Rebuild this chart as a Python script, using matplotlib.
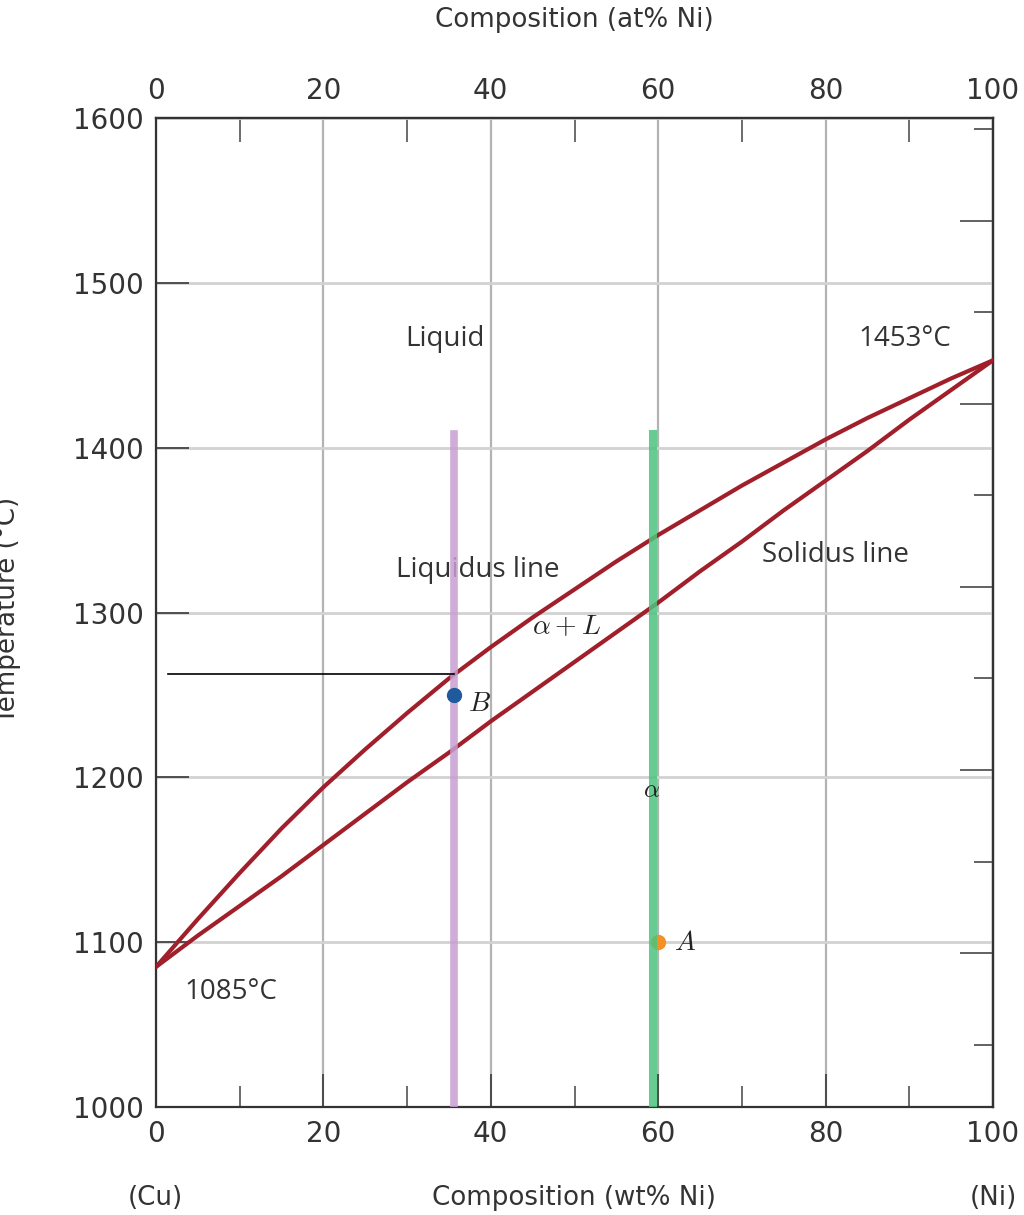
import numpy as np
import matplotlib
matplotlib.use("Agg")
import matplotlib.pyplot as plt
from matplotlib.ticker import MultipleLocator, FixedLocator, NullFormatter

plt.rcParams["mathtext.fontset"] = "cm"

# Cu-Ni phase diagram
wt_ni = [0, 5, 10, 15, 20, 25, 30, 35, 40, 45, 50,
         55, 60, 65, 70, 75, 80, 85, 90, 95, 100]
liquidus = [1085, 1114, 1142, 1169, 1194, 1217, 1239, 1260, 1279, 1297, 1314,
            1331, 1347, 1362, 1377, 1391, 1405, 1418, 1430, 1442, 1453]
solidus = [1085, 1104, 1122, 1140, 1159, 1178, 1197, 1215, 1234, 1252, 1270,
           1288, 1306, 1325, 1343, 1362, 1380, 1398, 1417, 1435, 1453]

alloy_b_x = 35.6
alloy_a_x = 59.4
alloy_top = 1408
point_b = (35.6, 1250)
point_a = (60.0, 1100)
tie_y = 1262.7
tie_x0 = 1.4

x_ticks = [0, 20, 40, 60, 80, 100]
y_ticks = [1000, 1100, 1200, 1300, 1400, 1500, 1600]
f_major = [2000, 2200, 2400, 2600, 2800]
f_minor = [1900, 2100, 2300, 2500, 2700, 2900]

RED = "#a11f2a"
TICK_FS = 20
ANN = ["Open Sans", "DejaVu Sans"]
ANN_FS = 20


def c2f(c):
    return np.asarray(c) * 9 / 5 + 32


def f2c(f):
    return (np.asarray(f) - 32) * 5 / 9


fig = plt.figure(figsize=(10.24, 12.15), dpi=100)
ax = fig.add_axes([156 / 1024, 1 - 1107 / 1215, (993 - 156) / 1024, (1107 - 118) / 1215])
ax.set_xlim(0, 100)
ax.set_ylim(1000, 1600)

for s in ax.spines.values():
    s.set_color("#333333")
    s.set_linewidth(1.6)

ax.xaxis.set_major_locator(FixedLocator(x_ticks))
ax.xaxis.set_minor_locator(MultipleLocator(10))
ax.yaxis.set_major_locator(FixedLocator(y_ticks))
ax.tick_params(axis="both", which="major", direction="in", length=24, width=1.3,
               color="#444444", labelsize=TICK_FS, labelcolor="#333333", pad=9)
ax.tick_params(axis="x", which="minor", direction="in", length=15, width=1.1, color="#444444")
ax.tick_params(axis="y", which="minor", left=False)
ax.tick_params(top=False, right=False)

ax.set_axisbelow(True)
ax.xaxis.grid(True, which="major", color="#b3b3b3", lw=1.6)
ax.yaxis.grid(True, which="major", color="#d2d2d2", lw=2.0)

# top composition axis (at% Ni)
top = ax.secondary_xaxis("top")
top.xaxis.set_major_locator(FixedLocator(x_ticks))
top.xaxis.set_minor_locator(MultipleLocator(10))
top.tick_params(which="major", direction="in", length=27, width=1.3, color="#444444",
                labelsize=TICK_FS, labelcolor="#333333", pad=9)
top.tick_params(which="minor", direction="in", length=17, width=1.1, color="#444444")
top.spines["top"].set_color("#333333")
top.spines["top"].set_linewidth(1.6)

# right axis in Fahrenheit, ticks only
right = ax.secondary_yaxis("right", functions=(c2f, f2c))
right.yaxis.set_major_locator(FixedLocator(f_major))
right.yaxis.set_minor_locator(FixedLocator(f_minor))
right.yaxis.set_major_formatter(NullFormatter())
right.yaxis.set_minor_formatter(NullFormatter())
right.tick_params(which="major", direction="in", length=24, width=1.3, color="#555555")
right.tick_params(which="minor", direction="in", length=14, width=1.3, color="#555555")
right.spines["right"].set_color("#333333")
right.spines["right"].set_linewidth(1.6)

# phase boundaries
ax.plot(wt_ni, liquidus, color=RED, lw=3.0, zorder=4, solid_capstyle="round")
ax.plot(wt_ni, solidus, color=RED, lw=3.0, zorder=4, solid_capstyle="round")

# alloy composition lines and points
ax.plot([alloy_b_x, alloy_b_x], [1000, alloy_top], color="#c79fd2", lw=5.5, alpha=0.85, zorder=5)
ax.plot([tie_x0, alloy_b_x], [tie_y, tie_y], color="black", lw=1.2, zorder=6)
ax.plot(*point_b, "o", color="#1f5b9c", ms=10, zorder=7)
ax.plot(*point_a, "o", color="#f39026", ms=10, zorder=5)
ax.plot([alloy_a_x, alloy_a_x], [1000, alloy_top], color="#4cc47e", lw=5.8, alpha=0.85, zorder=6)

# labels inside the diagram
ax.text(34.5, 1466, "Liquid", family=ANN, fontsize=ANN_FS, color="#333333", ha="center", va="center")
ax.text(38.5, 1326, "Liquidus line", family=ANN, fontsize=ANN_FS, color="#333333", ha="center", va="center")
ax.text(81.2, 1335, "Solidus line", family=ANN, fontsize=ANN_FS, color="#333333", ha="center", va="center")
ax.text(89.5, 1466, "1453\u00b0C", family=ANN, fontsize=ANN_FS, color="#333333", ha="center", va="center")
ax.text(8.9, 1070, "1085\u00b0C", family=ANN, fontsize=ANN_FS, color="#333333", ha="center", va="center")
ax.text(49.0, 1292, r"$\alpha + L$", fontsize=20, color="#222222", ha="center", va="center")
ax.text(59.2, 1192, r"$\alpha$", fontsize=18, color="#222222", ha="center", va="center", zorder=8)
ax.text(38.6, 1245, r"$B$", fontsize=20, color="#222222", ha="center", va="center")
ax.text(63.2, 1100, r"$A$", fontsize=20, color="#222222", ha="center", va="center")

# axis titles
fig.text(574 / 1024, 1 - 20 / 1215, "Composition (at% Ni)", fontsize=18.8, color="#333333",
         ha="center", va="center")
fig.text(574 / 1024, 1 - 1198 / 1215, "Composition (wt% Ni)", fontsize=18.8, color="#333333",
         ha="center", va="center")
fig.text(155 / 1024, 1 - 1198 / 1215, "(Cu)", fontsize=18.8, color="#333333", ha="center", va="center")
fig.text(993 / 1024, 1 - 1198 / 1215, "(Ni)", fontsize=18.8, color="#333333", ha="center", va="center")
fig.text(8 / 1024, 1 - 610 / 1215, "Temperature (\u00b0C)", fontsize=18.8, color="#333333",
         ha="center", va="center", rotation=90)

fig.savefig("out.png", dpi=100)
